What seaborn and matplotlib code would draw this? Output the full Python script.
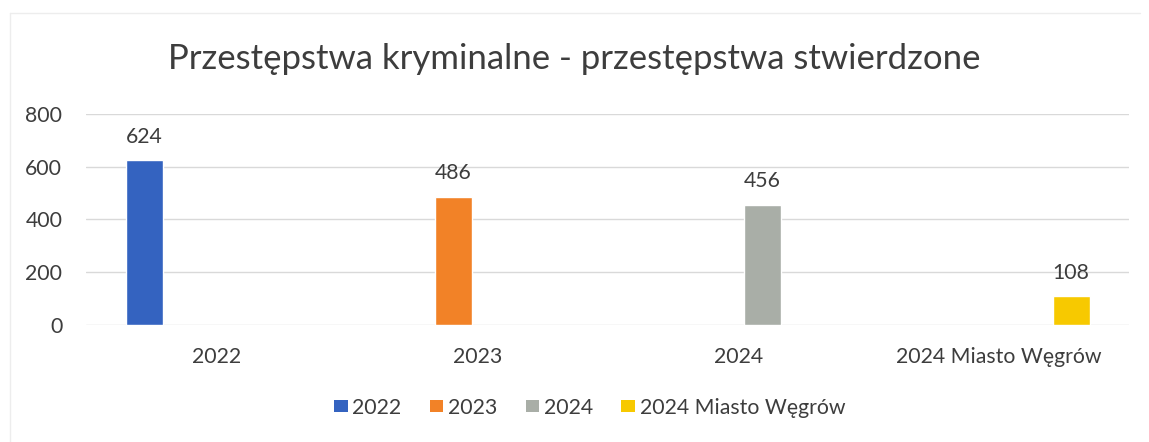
import matplotlib
matplotlib.use("Agg")
import matplotlib.pyplot as plt
from matplotlib.patches import Patch
from matplotlib.lines import Line2D
import seaborn as sns
import pandas as pd

categories = ["2022", "2023", "2024", "2024 Miasto Węgrów"]
values = [624, 486, 456, 108]
colors = ["#3463C0", "#F28227", "#A9AEA7", "#F7C900"]
yticks = [0, 200, 400, 600, 800]

sns.set_theme(style="white")
FAM = ['Lato', 'DejaVu Sans']
plt.rcParams['font.family'] = FAM

df = pd.DataFrame({"kategoria": categories, "wartosc": values, "seria": categories})

fig = plt.figure(figsize=(11.49, 4.42), dpi=100)
# faint chart-area border (top and left edges, as in the scan)
fig.add_artist(Line2D([10 / 1149, 1140 / 1149], [1 - 13 / 442, 1 - 13 / 442],
                      transform=fig.transFigure, color="#EDEDED", linewidth=1))
fig.add_artist(Line2D([10 / 1149, 10 / 1149], [0, 1 - 13 / 442],
                      transform=fig.transFigure, color="#EDEDED", linewidth=1))
ax = fig.add_axes([0.0748, 0.265, 0.9082, 0.477])

sns.barplot(data=df, x="kategoria", y="wartosc", hue="seria", hue_order=categories,
            order=categories, palette=colors, dodge=True, width=0.736, gap=0.23,
            saturation=1, ax=ax, legend=False)

TXT = "#3d3d3d"
FS = 15.3
for cont in ax.containers:
    ax.bar_label(cont, labels=[f"{v:.0f}" if v == v else "" for v in cont.datavalues],
                 padding=10, fontsize=FS, color=TXT, family=FAM)

ax.set_ylim(0, 800)
ax.set_yticks(yticks)
ax.set_xlim(-0.5, 3.5)
ax.yaxis.grid(True, color="#D9D9D9", linewidth=1)
ax.set_axisbelow(True)
for s in ax.spines.values():
    s.set_visible(False)
ax.tick_params(axis="y", length=0, pad=17, labelsize=FS, labelcolor=TXT)
ax.tick_params(axis="x", length=0, pad=16, labelsize=FS, labelcolor=TXT)
ax.set_xlabel("")
ax.set_ylabel("")

fig.text(0.5, 0.866, "Przestępstwa kryminalne - przestępstwa stwierdzone",
         ha="center", va="center", fontsize=25, color=TXT, family=FAM)

handles = [Patch(facecolor=c, edgecolor="none") for c in colors]
leg = ax.legend(handles, categories, loc="center", bbox_to_anchor=(0.513, 0.077),
                bbox_transform=fig.transFigure, ncol=4, frameon=False,
                handlelength=0.65, handleheight=0.5, handletextpad=0.2,
                columnspacing=1.35, prop={"family": FAM, "size": FS})
for t in leg.get_texts():
    t.set_color(TXT)

fig.savefig("out.png", dpi=100, facecolor="white")
